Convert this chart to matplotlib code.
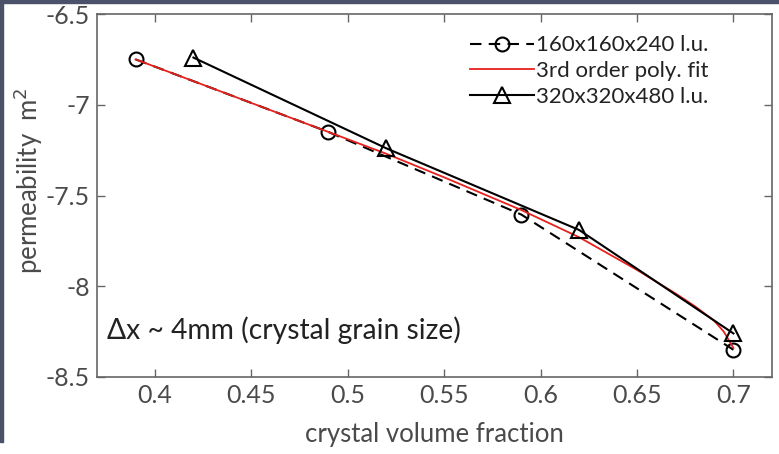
import matplotlib
matplotlib.use("Agg")
import matplotlib.pyplot as plt
from matplotlib.patches import Rectangle

plt.rcParams['font.family'] = ['Lato', 'DejaVu Sans']

# data
x_coarse = [0.39, 0.49, 0.59, 0.70]
y_coarse = [-6.75, -7.15, -7.605, -8.35]
x_fine = [0.42, 0.52, 0.62, 0.70]
y_fine = [-6.74, -7.24, -7.69, -8.26]
x_fit = [0.39, 0.42, 0.45, 0.49, 0.52, 0.55, 0.59, 0.62, 0.65, 0.66, 0.67, 0.68, 0.69, 0.695, 0.70]
y_fit = [-6.75, -6.87, -6.99, -7.15, -7.27, -7.40, -7.58, -7.73, -7.91, -7.975, -8.04, -8.11, -8.19, -8.25, -8.34]
xticks = [0.4, 0.45, 0.5, 0.55, 0.6, 0.65, 0.7]
yticks = [-8.5, -8, -7.5, -7, -6.5]

tc = '#4a4a4a'
fig = plt.figure(figsize=(7.79, 4.54), dpi=100)
ax = fig.add_axes([97/779, 1-377/454, (772-97)/779, (377-14)/454])

ax.plot(x_coarse, y_coarse, color='black', lw=1.5, ls=(0, (5.5, 3.5)), marker='o',
        ms=10, mfc='none', mew=1.5, label='160x160x240 l.u.')
ax.plot(x_fit, y_fit, color='#e8201c', lw=1.3, label='3rd order poly. fit')
ax.plot(x_fine, y_fine, color='black', lw=1.5, marker='^', ms=11, mfc='none', mew=1.5,
        label='320x320x480 l.u.')

ax.set_xlim(0.37, 0.72)
ax.set_ylim(-8.5, -6.5)
ax.set_xticks(xticks)
ax.set_xticklabels(['0.4', '0.45', '0.5', '0.55', '0.6', '0.65', '0.7'])
ax.set_yticks(yticks)
ax.set_yticklabels(['-8.5', '-8', '-7.5', '-7', '-6.5'])
ax.tick_params(direction='in', length=6, width=1, colors='#666666', labelcolor=tc,
               labelsize=18, top=True, right=True, pad=5)
for s in ax.spines.values():
    s.set_color('#666666')
    s.set_linewidth(1.2)

ax.set_xlabel('crystal volume fraction', fontsize=18.5, color=tc, labelpad=11)
ax.set_ylabel('permeability  m$^2$', fontsize=18.5, color=tc)
ax.yaxis.set_label_coords(-0.077, 0.54)

ax.text(10/675, 1-(330-14)/363, 'Δx ~ 4mm (crystal grain size)', transform=ax.transAxes,
        fontsize=20.3, color='#222222', va='center', ha='left')

leg = ax.legend(loc='upper right', bbox_to_anchor=(0.933, 0.99), frameon=False, fontsize=16,
                handlelength=2.9, handletextpad=0.1, labelspacing=0.25, borderaxespad=0.4)
for t in leg.get_texts():
    t.set_color('#222222')

# dark frame on top/left of image
fig.patches.append(Rectangle((0, 1-3/454), 1, 3/454, transform=fig.transFigure,
                             color='#4b5168', zorder=10))
fig.patches.append(Rectangle((0, 1-442/454), 3/779, 442/454, transform=fig.transFigure,
                             color='#4b5168', zorder=10))

fig.savefig('out.png', dpi=100)
